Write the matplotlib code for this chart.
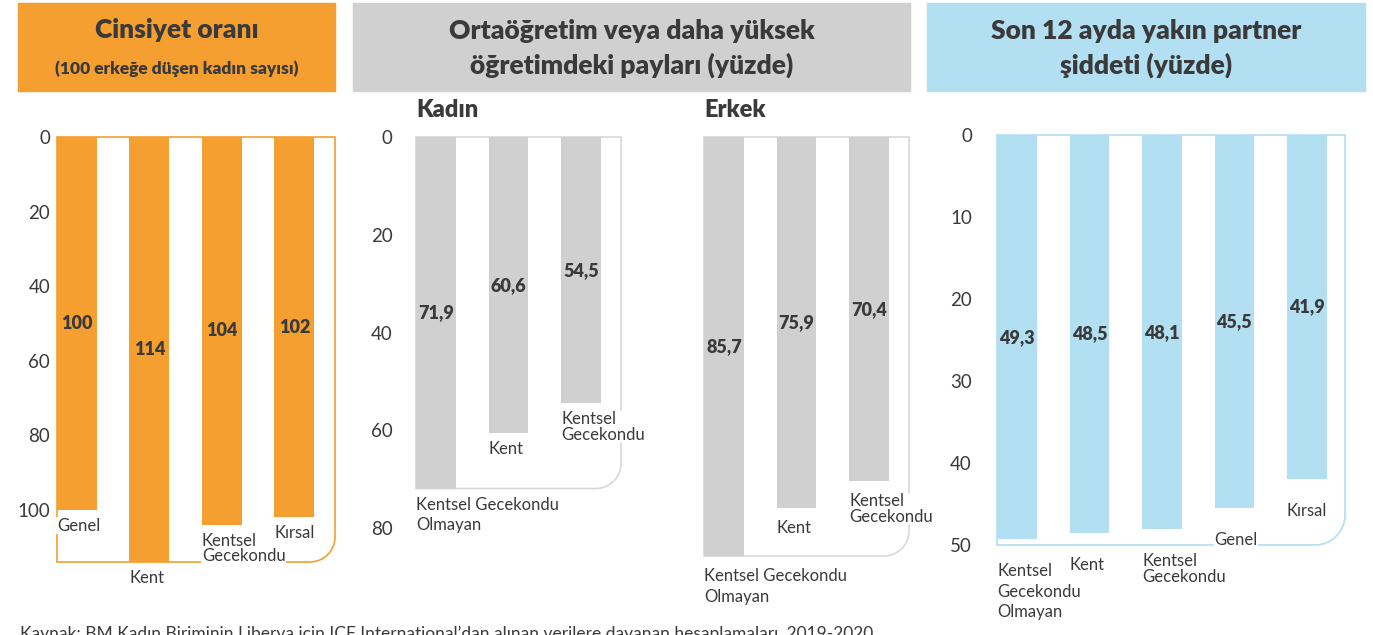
import matplotlib.pyplot as plt
from matplotlib.path import Path
from matplotlib.patches import PathPatch, Rectangle
from matplotlib.transforms import IdentityTransform

plt.rcParams['font.family'] = ['Lato', 'DejaVu Sans']

# data
sex_ratio_labels = ["Genel", "Kent", "Kentsel\nGecekondu", "Kırsal"]
sex_ratio_values = [100, 114, 104, 102]
sex_ratio_ticks = [0, 20, 40, 60, 80, 100]

edu_labels = ["Kentsel Gecekondu\nOlmayan", "Kent", "Kentsel\nGecekondu"]
edu_women = [71.9, 60.6, 54.5]
edu_men = [85.7, 75.9, 70.4]
edu_ticks = [0, 20, 40, 60, 80]

ipv_labels = ["Kentsel\nGecekondu\nOlmayan", "Kent", "Kentsel\nGecekondu", "Genel", "Kırsal"]
ipv_values = [49.3, 48.5, 48.1, 45.5, 41.9]
ipv_ticks = [0, 10, 20, 30, 40, 50]

# colours
DARK = "#3a3a3a"
ORANGE = "#f49f2f"
GREY = "#d0d0d0"
BLUE = "#b2dff1"

W, H = 1373, 635
fig = plt.figure(figsize=(W / 100, H / 100), dpi=100)


def px_axes(left, top, right, bottom):
    return fig.add_axes([left / W, 1 - bottom / H, (right - left) / W, (bottom - top) / H])


def header(x0, x1, color, lines, sizes, ys):
    fig.add_artist(Rectangle((x0 / W, 1 - 91 / H), (x1 - x0) / W, 88 / H,
                             transform=fig.transFigure, color=color, zorder=0))
    for txt, fs, y in zip(lines, sizes, ys):
        fig.text((x0 + x1) / 2 / W, 1 - y / H, txt, ha="center", va="center",
                 fontsize=fs, fontweight="heavy", color=DARK)


def frame(ax, xmax, bottom, color, radius):
    x0, y0 = ax.transData.transform((-0.275, 0))
    x1, y1 = ax.transData.transform((xmax, bottom))
    k = 0.5523 * radius
    verts = [(x0, y0), (x1, y0), (x1, y1 + radius),
             (x1, y1 + radius - k), (x1 - radius + k, y1), (x1 - radius, y1),
             (x0, y1), (x0, y0)]
    codes = [Path.MOVETO, Path.LINETO, Path.LINETO,
             Path.CURVE4, Path.CURVE4, Path.CURVE4,
             Path.LINETO, Path.CLOSEPOLY]
    p = PathPatch(Path(verts, codes), transform=IdentityTransform(), fill=False,
                  edgecolor=color, lw=1.2, zorder=0.5, clip_on=False)
    ax.add_patch(p)


def panel(ax, labels, values, color, ymax, xmax, frame_bottom, frame_color,
          ticks, tick_pad, label_gap, radius):
    x = list(range(len(values)))
    ax.bar(x, values, width=0.55, color=color, zorder=2)
    ax.set_xlim(-0.275, xmax)
    ax.set_ylim(ymax, 0)
    ax.patch.set_visible(False)
    for s in ax.spines.values():
        s.set_visible(False)
    ax.set_xticks([])
    if ticks:
        ax.set_yticks(ticks)
        ax.tick_params(axis="y", length=0, pad=tick_pad, labelsize=13.5, labelcolor=DARK)
    else:
        ax.set_yticks([])
    for xi, v, lab in zip(x, values, labels):
        ax.text(xi, v / 2, f"{v:g}".replace(".", ","), ha="center", va="center",
                fontsize=13, fontweight="heavy", color=DARK, zorder=4)
        ls = 1.35 if "Olmayan" in lab else 0.95
        ax.annotate(lab, (xi - 0.275, v), xytext=(0, -label_gap), textcoords="offset pixels",
                    ha="left", va="top", fontsize=12, color=DARK, linespacing=ls,
                    bbox=dict(fc="white", ec="none", pad=0.5), zorder=3,
                    annotation_clip=False)
    frame(ax, xmax, frame_bottom, frame_color, radius)


# headers
header(18, 335, ORANGE, ["Cinsiyet oranı", "(100 erkeğe düşen kadın sayısı)"], [19, 12.5], [30, 69])
header(353, 910, GREY, ["Ortaöğretim veya daha yüksek", "öğretimdeki payları (yüzde)"], [19, 19], [31, 65])
header(927, 1365, BLUE, ["Son 12 ayda yakın partner", "şiddeti (yüzde)"], [19, 19], [31, 65])

# panel 1: sex ratio
ax1 = px_axes(57, 137, 335, 562)
panel(ax1, sex_ratio_labels, sex_ratio_values, ORANGE, max(sex_ratio_values), 3.56,
      max(sex_ratio_values), ORANGE, sex_ratio_ticks, 5, 8, 25)

# panel 2 and 3: education, women and men
ymax_edu = max(edu_men)
ax2 = px_axes(416, 137, 621, 556)
panel(ax2, edu_labels, edu_women, GREY, ymax_edu, 2.55, max(edu_women), "#d8d8d8",
      edu_ticks, 17, 8, 25)
ax3 = px_axes(704, 137, 909, 556)
panel(ax3, edu_labels, edu_men, GREY, ymax_edu, 2.55, max(edu_men), "#d8d8d8",
      None, 0, 12, 25)
fig.text(416 / W, 1 - 110 / H, "Kadın", ha="left", va="center", fontsize=17,
         fontweight="heavy", color=DARK)
fig.text(704 / W, 1 - 110 / H, "Erkek", ha="left", va="center", fontsize=17,
         fontweight="heavy", color=DARK)

# panel 4: intimate partner violence
ax4 = px_axes(997, 135, 1345, 545)
panel(ax4, ipv_labels, ipv_values, BLUE, 50, 4.525, 50, BLUE, ipv_ticks, 18, 24, 30)

# source
fig.text(20 / W, 1 - 626 / H,
         "Kaynak: BM Kadın Biriminin Liberya için ICF International’dan alınan verilere "
         "dayanan hesaplamaları, 2019-2020",
         ha="left", va="top", fontsize=12.5, color=DARK)

plt.savefig("out.png", dpi=100)
